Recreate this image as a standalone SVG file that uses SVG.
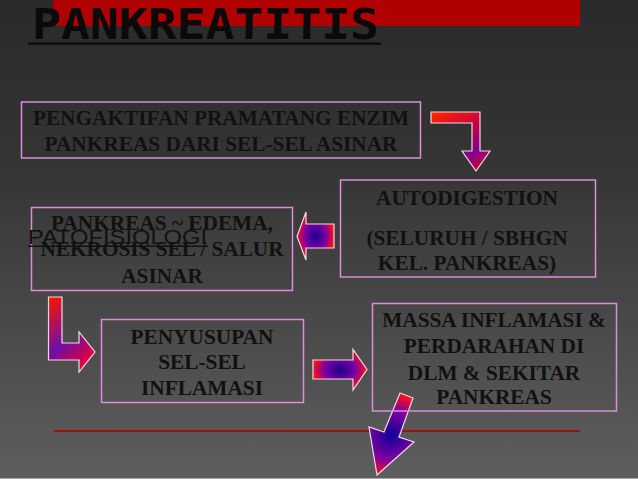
<svg xmlns="http://www.w3.org/2000/svg" width="638" height="479" viewBox="0 0 638 479">
<defs>
<linearGradient id="bg" x1="0" y1="0" x2="0" y2="1">
<stop offset="0" stop-color="#2a2a2a"/>
<stop offset="0.35" stop-color="#353535"/>
<stop offset="1" stop-color="#5e5e5e"/>
</linearGradient>
<linearGradient id="g1" gradientUnits="userSpaceOnUse" x1="440" y1="112" x2="476" y2="171">
<stop offset="0" stop-color="#ff2000"/>
<stop offset="0.45" stop-color="#c0004a"/>
<stop offset="0.75" stop-color="#800090"/>
<stop offset="1" stop-color="#d0003a"/>
</linearGradient>
<radialGradient id="g2" cx="0.5" cy="0.5" r="0.5">
<stop offset="0" stop-color="#1a0090"/>
<stop offset="0.6" stop-color="#8000a0"/>
<stop offset="1" stop-color="#ff1010"/>
</radialGradient>
<linearGradient id="g3" gradientUnits="userSpaceOnUse" x1="48" y1="300" x2="95" y2="352">
<stop offset="0" stop-color="#ff1500"/>
<stop offset="0.6" stop-color="#6a10a8"/>
<stop offset="1" stop-color="#e00040"/>
</linearGradient>
<radialGradient id="g5" gradientUnits="userSpaceOnUse" cx="391" cy="435" r="42">
<stop offset="0" stop-color="#10009a"/>
<stop offset="0.6" stop-color="#8000a0"/>
<stop offset="1" stop-color="#ff1010"/>
</radialGradient>
</defs>
<style>
.box{fill:none;stroke:#d890d8;stroke-width:1.5}
.t{font-family:"Liberation Serif","Times New Roman",serif;font-weight:bold;font-size:21.3px;fill:#111;text-anchor:middle}
.arr{stroke:#f0d8e8;stroke-width:1.2;stroke-linejoin:miter}
</style>
<rect width="638" height="479" fill="url(#bg)"/>
<line x1="0" y1="478.5" x2="638" y2="478.5" stroke="#a8a8a8" stroke-width="1"/>
<rect x="53" y="0" width="527" height="26" fill="#b00000"/>
<text x="32" y="39" font-family="DejaVu Sans Mono,monospace" font-weight="bold" font-size="43" fill="#0a0a0a" textLength="347" lengthAdjust="spacingAndGlyphs">PANKREATITIS</text>
<rect x="28" y="42.5" width="353" height="2.2" fill="#0a0a0a"/>
<line x1="54" y1="431" x2="580" y2="431" stroke="#a01010" stroke-width="2"/>

<g id="connectors">
<polygon class="arr" fill="url(#g1)" points="431,112 480,112 480,151 490,151 476,171 462,151 472,151 472,123 431,123"/>
<polygon class="arr" fill="url(#g2)" points="334,224 334,248 306,248 306,260 297,236.5 306,212 306,224"/>
<polygon class="arr" fill="url(#g3)" points="48.5,297 62,297 62,343 79,343 79,332 95,352 79,372 79,360 48.5,360"/>
<polygon class="arr" fill="url(#g2)" points="313,360 353,360 353,349.5 367,369.5 353,390 353,379 313,379"/>
<polygon class="arr" fill="url(#g5)" points="400,393 413,398 399,437 414,442 377,475 369,427 384,432"/>
</g>

<g id="n1">
<rect class="box" x="21.5" y="102" width="399" height="56"/>
<text class="t" x="221" y="125">PENGAKTIFAN PRAMATANG ENZIM</text>
<text class="t" x="221" y="150.5">PANKREAS DARI SEL-SEL ASINAR</text>
</g>
<g id="n2">
<rect class="box" x="31.5" y="207.5" width="261" height="83"/>
<text class="t" x="162" y="230">PANKREAS ~ EDEMA,</text>
<text class="t" x="162" y="256">NEKROSIS SEL / SALUR</text>
<text class="t" x="162" y="282.5">ASINAR</text>
</g>
<g id="n3">
<rect class="box" x="340.5" y="180" width="255" height="97"/>
<text class="t" x="467" y="205">AUTODIGESTION</text>
<text class="t" x="467" y="245">(SELURUH / SBHGN</text>
<text class="t" x="467" y="270">KEL. PANKREAS)</text>
</g>
<g id="n4">
<rect class="box" x="101.5" y="319.5" width="202" height="83"/>
<text class="t" x="202" y="343.5">PENYUSUPAN</text>
<text class="t" x="202" y="369">SEL-SEL</text>
<text class="t" x="202" y="395">INFLAMASI</text>
</g>
<g id="n5">
<rect class="box" x="372.5" y="303.5" width="244" height="107.5"/>
<text class="t" x="494" y="327">MASSA INFLAMASI &amp;</text>
<text class="t" x="494" y="353">PERDARAHAN DI</text>
<text class="t" x="494" y="379.5">DLM &amp; SEKITAR</text>
<text class="t" x="494" y="404">PANKREAS</text>
</g>
<g id="label">
<text x="28" y="244" font-family="Liberation Sans,Arial,sans-serif" font-size="21" fill="#111" textLength="179" lengthAdjust="spacingAndGlyphs">PATOFISIOLOGI</text>
<rect x="28" y="245.5" width="180" height="1.5" fill="#111"/>
</g>
</svg>
